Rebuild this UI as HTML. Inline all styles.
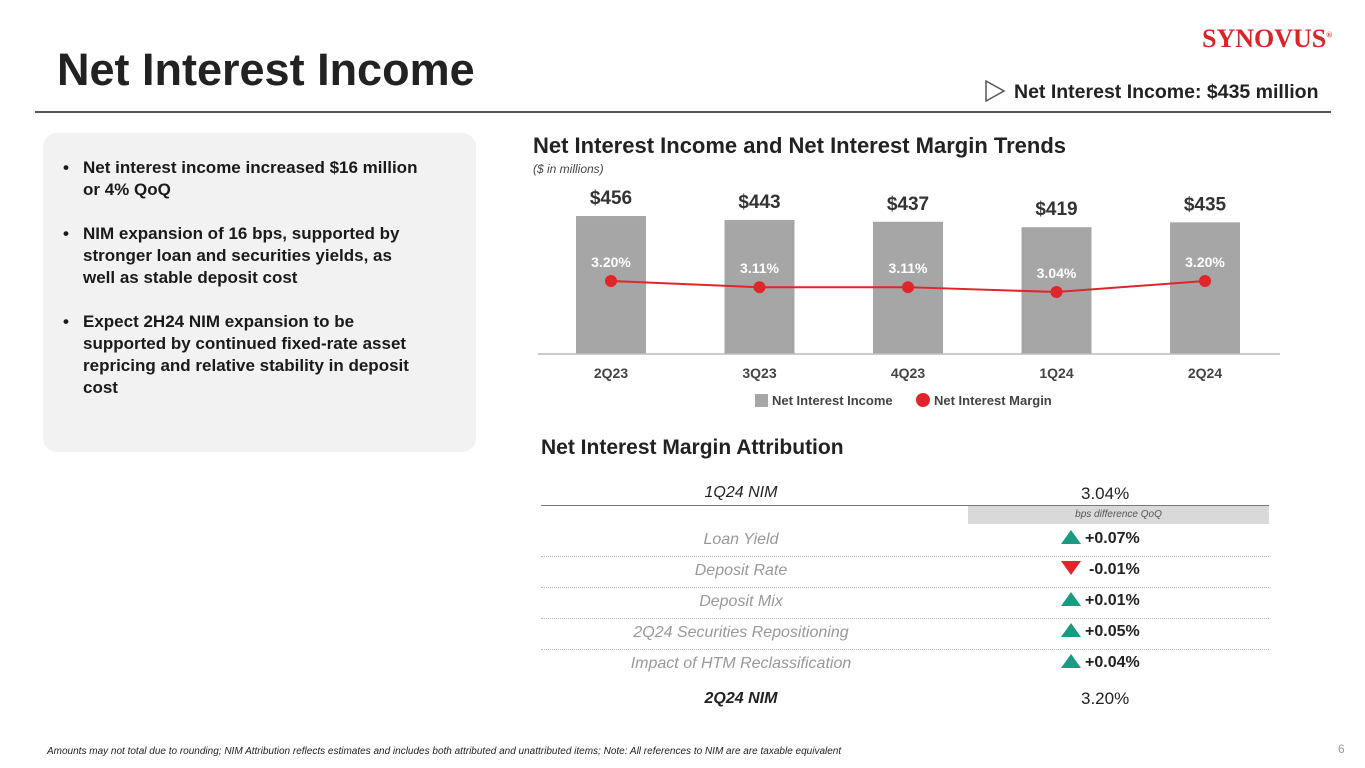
<!DOCTYPE html>
<html><head><meta charset="utf-8"><style>
body{margin:0;width:1365px;height:768px;overflow:hidden;background:#fff;font-family:"Liberation Sans",sans-serif;position:relative;color:#222}
.a{position:absolute}
.panel{left:43px;top:133px;width:433px;height:319px;background:#f2f2f2;border-radius:14px}
.panel ul{margin:0;padding:0 0 0 40px;list-style:none}
.panel li{position:relative;font-size:17px;font-weight:bold;line-height:22px;margin-bottom:22px;color:#1a1a1a;width:345px}
.panel li:before{content:"•";position:absolute;left:-20px}
.row{position:absolute;left:541px;width:728px;height:31px;border-bottom:1px dotted #bbb;font-size:16px}
.row .l{position:absolute;left:0;width:400px;text-align:center;font-style:italic;color:#999;top:6px}
.row .r{position:absolute;left:540px;top:5px;font-weight:bold;color:#222}
.up{display:inline-block;width:0;height:0;border-left:10px solid transparent;border-right:10px solid transparent;border-bottom:14px solid #1a9b82;margin-right:4px;vertical-align:-1px}
.dn{display:inline-block;width:0;height:0;border-left:10px solid transparent;border-right:10px solid transparent;border-top:14px solid #e0252b;margin-right:8px;vertical-align:-1px}
</style></head><body>
<div class="a" style="left:1202px;top:24px;font-family:'Liberation Serif',serif;font-size:26px;color:#d9252a;font-weight:bold">SYNOVUS<sup style="font-size:8px">®</sup></div>
<div class="a" style="left:57px;top:44px;font-size:45px;font-weight:bold;color:#222">Net Interest Income</div>
<div class="a" style="left:984px;top:80px;font-size:19.5px;font-weight:bold;color:#222"><svg width="22" height="22" style="vertical-align:-4px;margin-right:8px"><polygon points="2,1 20,11 2,21" fill="none" stroke="#555" stroke-width="1.5"/></svg>Net Interest Income: $435 million</div>
<div class="a" style="left:35px;top:111px;width:1296px;height:2px;background:#555"></div>
<div class="a panel"><div style="height:24px"></div><ul>
<li>Net interest income increased $16 million or 4% QoQ</li>
<li>NIM expansion of 16 bps, supported by stronger loan and securities yields, as well as stable deposit cost</li>
<li>Expect 2H24 NIM expansion to be supported by continued fixed-rate asset repricing and relative stability in deposit cost</li></ul></div>
<div class="a" style="left:533px;top:133px;font-size:22px;font-weight:bold;color:#222">Net Interest Income and Net Interest Margin Trends</div>
<div class="a" style="left:533px;top:162px;font-size:12px;font-style:italic;color:#444">($ in millions)</div>
<svg class="a" id="chart" style="left:0;top:0" width="1365" height="420"></svg>
<div class="a" style="left:541px;top:436px;font-size:21px;font-weight:bold;color:#222">Net Interest Margin Attribution</div>
<div class="row" style="top:477px;border-bottom:1px solid #777;height:28px"><span class="l" style="color:#222;top:7px">1Q24 NIM</span><span class="r" style="font-weight:normal;top:7px;font-size:17px">3.04%</span></div>
<div class="a" style="left:968px;top:506px;width:301px;height:18px;background:#d9d9d9;font-size:10px;font-style:italic;color:#555;text-align:center;line-height:18px">bps difference QoQ</div>
<div class="row" style="top:525px"><span class="l">Loan Yield</span><span class="r" style="left:520px"><i class="up"></i>+0.07%</span></div>
<div class="row" style="top:556px"><span class="l">Deposit Rate</span><span class="r" style="left:520px"><i class="dn"></i>-0.01%</span></div>
<div class="row" style="top:587px"><span class="l">Deposit Mix</span><span class="r" style="left:520px"><i class="up"></i>+0.01%</span></div>
<div class="row" style="top:618px"><span class="l">2Q24 Securities Repositioning</span><span class="r" style="left:520px"><i class="up"></i>+0.05%</span></div>
<div class="row" style="top:649px;border-bottom:none"><span class="l">Impact of HTM Reclassification</span><span class="r" style="left:520px"><i class="up"></i>+0.04%</span></div>
<div class="row" style="top:684px;border-bottom:none"><span class="l" style="color:#222;font-weight:bold">2Q24 NIM</span><span class="r" style="font-weight:normal;font-size:17px">3.20%</span></div>
<div class="a" style="left:47px;top:746px;font-size:10px;font-style:italic;color:#222">Amounts may not total due to rounding; NIM Attribution reflects estimates and includes both attributed and unattributed items; Note: All references to NIM are are taxable equivalent</div>
<div class="a" style="left:1338px;top:742px;font-size:12px;color:#999">6</div>
<script>
const categories=["2Q23","3Q23","4Q23","1Q24","2Q24"];
const niiValues=[456,443,437,419,435];
const nimValues=[3.20,3.11,3.11,3.04,3.20];
const niiLabels=["$456","$443","$437","$419","$435"];
const nimLabels=["3.20%","3.11%","3.11%","3.04%","3.20%"];
const svg=document.getElementById('chart');const NS='http://www.w3.org/2000/svg';
const base=354;
function xPos(i){return 611+i*148.5;}
function yBar(v){return base-v*0.3026;}
function yNim(v){return 281-(v-3.20)*68.75;}
function mk(t,a,txt){const e=document.createElementNS(NS,t);for(const k in a)e.setAttribute(k,a[k]);if(txt!=null)e.textContent=txt;svg.appendChild(e);return e;}
categories.forEach((c,i)=>{
 const b=mk('rect',{x:xPos(i)-35,y:yBar(niiValues[i]),width:70,height:base-yBar(niiValues[i]),fill:'#a6a6a6'});
 
 
 const t=mk('text',{x:xPos(i),y:yBar(niiValues[i])-12,'text-anchor':'middle','font-size':19,'font-weight':'bold',fill:'#333'},niiLabels[i]);
 
 
 const n=mk('text',{x:xPos(i),y:yNim(nimValues[i])-14,'text-anchor':'middle','font-size':14,'font-weight':'bold',fill:'#fff'},nimLabels[i]);
 
 
 const x=mk('text',{x:xPos(i),y:base+24,'text-anchor':'middle','font-size':14,'font-weight':'bold',fill:'#444'},c);
 
 
});
const ax=mk('line',{x1:538,x2:1280,y1:base,y2:base,stroke:'#bbb','stroke-width':1.5});


const pl=mk('polyline',{points:nimValues.map((v,i)=>xPos(i)+','+yNim(v)).join(' '),fill:'none',stroke:'#e0252b','stroke-width':2});


nimValues.forEach((v,i)=>{const d=mk('circle',{cx:xPos(i),cy:yNim(v),r:6,fill:'#e0252b'});
 
 });
const l1=mk('rect',{x:755,y:394,width:13,height:13,fill:'#a6a6a6'});


const lt1=mk('text',{x:772,y:405,'font-size':13,'font-weight':'bold',fill:'#444'},'Net Interest Income');


const l2=mk('circle',{cx:923,cy:400,r:7,fill:'#e0252b'});


const lt2=mk('text',{x:934,y:405,'font-size':13,'font-weight':'bold',fill:'#444'},'Net Interest Margin');


</script>
</body></html>
